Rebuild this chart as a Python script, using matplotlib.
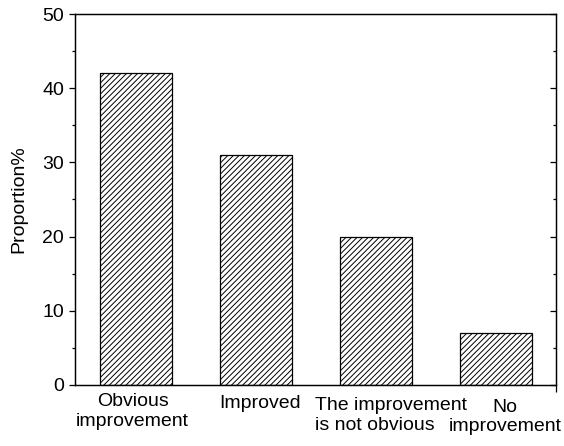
import matplotlib
matplotlib.use("Agg")
import matplotlib.pyplot as plt
import matplotlib.transforms as mtransforms
from matplotlib.ticker import MultipleLocator

categories = ["Obvious\nimprovement", "Improved", "The improvement\nis not obvious", "No\nimprovement"]
values = [42, 31, 20, 7]
yticks = [0, 10, 20, 30, 40, 50]

plt.rcParams['font.family'] = ['Liberation Sans', 'DejaVu Sans']
plt.rcParams['hatch.linewidth'] = 0.7

fig = plt.figure(figsize=(5.64, 4.46), dpi=100)
ax = fig.add_axes([0.133, 0.1368, 0.853, 0.8318])

x = list(range(len(categories)))
ax.bar(x, values, width=0.6, color='white', edgecolor='black', linewidth=0.9, hatch='//////')

xmin, xmax = -0.508, 3.5
ax.set_xlim(xmin, xmax)
ax.set_ylim(0, 50)
ax.set_yticks(yticks)
ax.set_yticklabels([str(t) for t in yticks], fontsize=14)
ax.yaxis.set_minor_locator(MultipleLocator(5))
ax.set_ylabel("Proportion%", fontsize=14, labelpad=10.5)

ax.set_xticks(x)
ax.set_xticklabels(categories, fontsize=14, linespacing=1.2)
ax.set_xticks([xmax], minor=True)
ax.tick_params(axis='x', which='major', length=0, pad=3)
ax.tick_params(axis='x', which='minor', direction='out', length=5, width=0.9)
ax.tick_params(axis='y', which='major', direction='out', length=4.5, width=0.9, left=True, right=False, pad=3.5)
ax.tick_params(axis='y', which='minor', direction='out', length=2.2, width=0.9, left=True, right=False)

# right-side inward ticks via twin axis
ax2 = ax.twinx()
ax2.set_ylim(0, 50)
ax2.set_yticks(yticks)
ax2.yaxis.set_minor_locator(MultipleLocator(5))
ax2.tick_params(axis='y', which='major', direction='in', length=4.5, width=0.9, labelright=False)
ax2.tick_params(axis='y', which='minor', direction='in', length=2.2, width=0.9)
ax2.set_yticklabels([])

for a in (ax, ax2):
    for s in a.spines.values():
        s.set_linewidth(0.9)

offsets = [(-2.5, -3), (3, -4.3), (11, -6), (6.5, -7)]
aligns = ['center', 'center', 'left', 'center']
for lab, (dx, dy), ma in zip(ax.get_xticklabels(), offsets, aligns):
    lab.set_multialignment(ma)
    lab.set_transform(lab.get_transform() + mtransforms.ScaledTranslation(dx / 72, dy / 72, fig.dpi_scale_trans))

fig.savefig("out.png", dpi=100)
